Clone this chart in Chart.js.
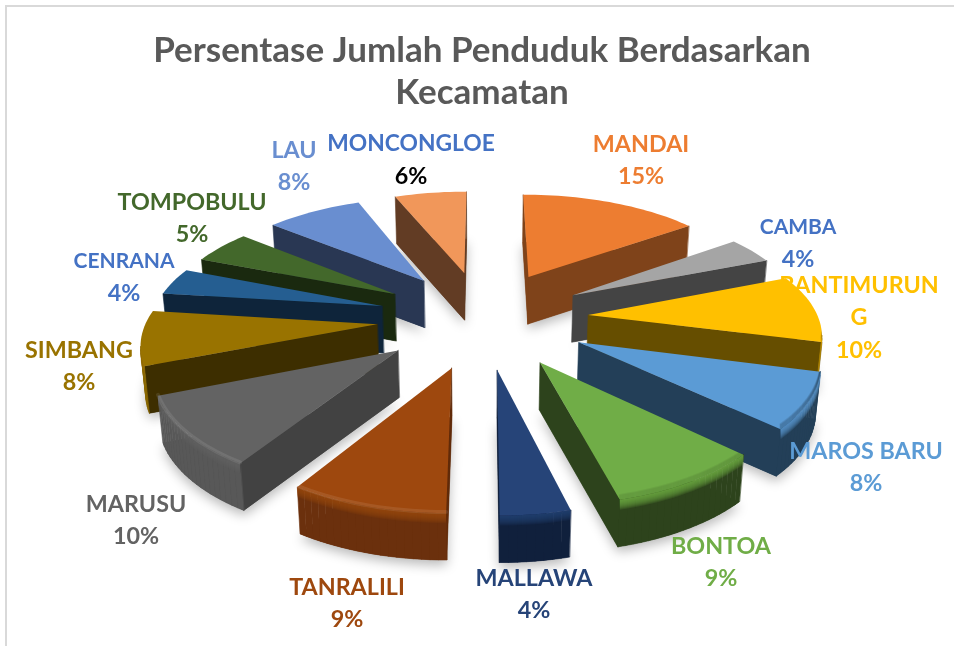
<!DOCTYPE html>
<html><head><meta charset="utf-8">
<style>html,body{margin:0;padding:0;background:#fff;overflow:hidden}
#frame{position:absolute;left:5px;top:5px;width:949px;height:641px;border-left:2px solid #d9d9d9;border-top:2px solid #d9d9d9;box-sizing:border-box}
canvas{position:absolute;left:0;top:0}</style>
<script src="https://cdn.jsdelivr.net/npm/chart.js@4"></script></head>
<body><div id="frame"></div><canvas id="c" width="954" height="646"></canvas>
<script>
const titleLines = ["Persentase Jumlah Penduduk Berdasarkan", "Kecamatan"];
const categories = ["MANDAI","CAMBA","BANTIMURUNG","MAROS BARU","BONTOA","MALLAWA","TANRALILI","MARUSU","SIMBANG","CENRANA","TOMPOBULU","LAU","MONCONGLOE"];
const percentages = [15,4,10,8,9,4,9,10,8,4,5,8,6];
const sliceColors = ["#ed7d31","#a5a5a5","#ffc000","#5b9bd5","#70ad47","#264478","#9e480e","#636363","#997300","#255e91","#43682b","#698ed0","#f1975a"];
const wallColors = ["#7f431a","#444444","#664e00","#233f58","#2d431c","#10203c","#602a09","#424242","#3d2e00","#0e243a","#1a290f","#293753","#623c24"];
const outerWallColors = ["#7f431a","#444444","#a88000","#233f58","#2d431c","#10203c","#6b300d","#585858","#8a6800","#0e243a","#1a290f","#293753","#623c24"];
const ridgeAlpha = [0,0,0,0,0,0,0.09,0.09,0,0,0,0,0];
const innerShade = [0,0,0.05,0.09,0.05,0,0,0,0,0,0,0,0];
const nameColors = ["#ed7d31","#4472c4","#ffc000","#5b9bd5","#70ad47","#264478","#9e480e","#636363","#997300","#4472c4","#43682b","#698ed0","#4472c4"];
const valueColors = ["#ed7d31","#4472c4","#ffc000","#5b9bd5","#70ad47","#264478","#9e480e","#636363","#997300","#4472c4","#43682b","#698ed0","#000000"];
const labelCentres = [[641,144],[798,227],[859,285],[866,451],[721,546],[534,578],[347,587],[136,504],[79,350],[124,261],[192,202],[294,150],[411,144]];
const nameFontSizes = [23.3,21,23.3,23.3,23.3,23.3,23.3,23.3,23.3,21,23.3,23.3,22.8];
const wrapAt = {2:10};
const lineGap = 32.5;
const explodePx = 84, explodeFrac = 0.46;
const view = {cx:483, cy:318, A:230, B:106, kx:0.138, ky:0.15, depth:47};

function project(u,v){return {x:view.cx+view.A*u/(1-view.kx*v),y:view.cy+view.B*v/(1-view.ky*v)};}
function sink(p){return {x:view.cx+(p.x-view.cx)*0.985,y:p.y+view.depth};}
function trace(ctx,pts,close){ctx.beginPath();pts.forEach((p,i)=>i?ctx.lineTo(p.x,p.y):ctx.moveTo(p.x,p.y));if(close)ctx.closePath();}

const pie3d = {
  id:'pie3d',
  beforeDatasetsDraw(chart){
    const ctx=chart.ctx, arcs=chart.getDatasetMeta(0).data;
    const shapes=arcs.map((arc,i)=>{
      const {startAngle:a0,endAngle:a1}=arc.getProps(['startAngle','endAngle'],true);
      const mid=(a0+a1)/2, ou=explodeFrac*Math.cos(mid), ov=explodeFrac*Math.sin(mid);
      const apex=project(ou,ov), rim=[];
      const n=Math.max(4,Math.round((a1-a0)/0.03));
      for(let j=0;j<=n;j++){const a=a0+(a1-a0)*j/n;rim.push(project(ou+Math.cos(a),ov+Math.sin(a)));}
      return {i,apex,rim};
    }).sort((p,q)=>p.apex.y-q.apex.y);
    shapes.forEach(({i,apex,rim})=>{
      const top=[apex,...rim], bottom=top.map(sink);
      ctx.save();
      ctx.shadowColor='rgba(0,0,0,0.28)';ctx.shadowBlur=12;ctx.shadowOffsetY=5;
      ctx.fillStyle=wallColors[i];trace(ctx,bottom,true);ctx.fill();
      ctx.restore();
      const quad=(p,q,fill)=>{
        if(q.x>=p.x)return;
        ctx.fillStyle=fill;ctx.strokeStyle=fill;ctx.lineWidth=0.6;trace(ctx,[p,q,sink(q),sink(p)],true);ctx.fill();ctx.stroke();
      };
      quad(apex,rim[0],wallColors[i]);
      quad(rim[rim.length-1],apex,wallColors[i]);
      const front=[];
      for(let j=0;j<rim.length-1;j++){
        quad(rim[j],rim[j+1],outerWallColors[i]);
        if(rim[j+1].x<rim[j].x){if(!front.length)front.push(rim[j]);front.push(rim[j+1]);}
      }
      ctx.lineCap='round';ctx.lineJoin='round';
      // bevel: the top colour fades down into the outer wall
      if(front.length>1){
        ctx.fillStyle=sliceColors[i];ctx.globalAlpha=0.16;
        for(let h=10;h>=1;h--){
          const band=[...front,...front.slice().reverse().map(p=>({x:p.x,y:p.y+h}))];
          trace(ctx,band,true);ctx.fill();
        }
        ctx.globalAlpha=1;
      }
      ctx.fillStyle=sliceColors[i];trace(ctx,top,true);ctx.fill();
      if(front.length&&ridgeAlpha[i]){
        ctx.strokeStyle='rgba(255,255,255,'+ridgeAlpha[i]+')';ctx.lineWidth=4;
        trace(ctx,front.map(p=>({x:p.x,y:p.y-1})),false);ctx.stroke();
      }
      if(front.length&&innerShade[i]){
        ctx.save();trace(ctx,top,true);ctx.clip();
        ctx.lineWidth=2;ctx.strokeStyle='rgba(0,0,0,'+innerShade[i]+')';
        for(let k=0;k<6;k++){trace(ctx,front.map(p=>({x:p.x,y:p.y-k})),false);ctx.stroke();}
        ctx.restore();
      }
    });
    return false;
  },
  afterDraw(chart){
    const ctx=chart.ctx;
    ctx.save();ctx.textAlign='center';ctx.textBaseline='middle';
    categories.forEach((name,i)=>{
      const [x,y]=labelCentres[i];
      const lines=wrapAt[i]?[name.slice(0,wrapAt[i]),name.slice(wrapAt[i])]:[name];
      ctx.font='bold '+nameFontSizes[i]+'px Lato';
      ctx.fillStyle=nameColors[i];
      lines.forEach((t,j)=>ctx.fillText(t,x,y+j*lineGap));
      ctx.font='bold 23.3px Lato';
      ctx.fillStyle=valueColors[i];
      ctx.fillText(percentages[i]+'%',x,y+lines.length*lineGap);
    });
    ctx.restore();
  }
};

new Chart(document.getElementById('c'),{
  type:'pie',
  data:{labels:categories,datasets:[{data:percentages,backgroundColor:sliceColors,borderWidth:0,offset:explodePx}]},
  options:{responsive:false,animation:false,
    layout:{padding:{left:10,top:8}},
    plugins:{legend:{display:false},tooltip:{enabled:false},
      title:{display:true,text:titleLines,color:'#595959',font:{family:'Lato',size:35,weight:'bold',lineHeight:1.2},padding:{top:22,bottom:10}}}},
  plugins:[pie3d]
});
</script></body></html>
